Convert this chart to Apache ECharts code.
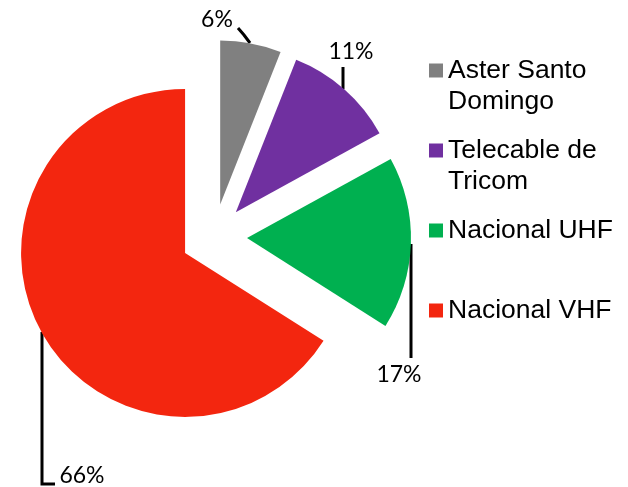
<!DOCTYPE html>
<html>
<head>
<meta charset="utf-8">
<script src="https://cdn.jsdelivr.net/npm/echarts@6/dist/echarts.min.js"></script>
<style>
html, body {margin:0; padding:0; background:#fff;}
#main {width:628px; height:487px;}
</style>
</head>
<body>
<div id="main"></div>
<script>
// data
const names = ["Aster Santo Domingo", "Telecable de Tricom", "Nacional UHF", "Nacional VHF"];
const legendLines = [["Aster Santo", "Domingo"], ["Telecable de", "Tricom"], ["Nacional UHF", " "], ["Nacional VHF", " "]];
const shares = [6, 11, 17, 66];

const colors = ["#808080", "#7030a0", "#00b050", "#f3260f"];

// hand placed labels, like the original
const labelPos = [
	{x: 217, y: 20, line: [[250, 43], [244, 35], [238, 28]]},
	{x: 351, y: 52, line: [[343, 89], [343, 78], [343, 67]]},
	{x: 399, y: 375, line: [[411, 244], [411, 300], [411, 358]]},
	{x: 82, y: 476, line: [[42, 332], [42, 484], [55, 484]]}
];

const cx = 214, cy = 237, r = 164, explode = 33;

var mychart = echarts.init(document.getElementById("main"));

const rich = {
	g: {width: 5, lineHeight: 31},
	i: {width: 19, lineHeight: 31},
	t: {fontSize: 26.5, fontFamily: "Liberation Sans", lineHeight: 31, color: "#000"}
};
for(let i = 0; i < colors.length; i++){
	rich["s" + i] = {width: 14, height: 14, backgroundColor: colors[i], lineHeight: 31};
}

// one pie per slice, every pie has all the data, only its own slice is painted
const total = shares.reduce((a, b) => a + b, 0);
const series = [];
let before = 0;
for(let k = 0; k < shares.length; k++){
	const mid = (before + shares[k] / 2) / total * 2 * Math.PI;
	before += shares[k];
	const piedata = [];
	for(let i = 0; i < names.length; i++){
		const mine = i == k;
		piedata.push({name: names[i], value: shares[i],
			itemStyle: {color: mine ? colors[i] : "rgba(0,0,0,0)"},
			label: {show: mine},
			labelLine: {show: mine}});
	}
	series.push({
		type: "pie",
		center: [cx + explode * Math.sin(mid), cy - explode * Math.cos(mid)],
		radius: r,
		startAngle: 90,
		silent: true,
		avoidLabelOverlap: false,
		data: piedata,
		label: {
			formatter: function(p){return p.value + "%";},
			fontFamily: "Lato",
			fontSize: 23,
			color: "#000"
		},
		labelLine: {smooth: false, lineStyle: {color: "#000", width: 3}},
		labelLayout: function(params){
			const p = labelPos[params.dataIndex];
			return {x: p.x, y: p.y, align: "center", verticalAlign: "middle", labelLinePoints: p.line};
		}
	});
}

const option = {
	animation: false,
	legend: {
		orient: "vertical",
		left: 424,
		top: 57,
		padding: 0,
		itemGap: 22,
		itemWidth: 0,
		itemHeight: 0,
		selectedMode: false,
		data: names,
		formatter: function(name){
			const i = names.indexOf(name);
			return "{s" + i + "|}{g|}{t|" + legendLines[i][0] + "}\n{i|}{t|" + legendLines[i][1] + "}";
		},
		textStyle: {rich: rich}
	},
	series: series
};
mychart.setOption(option);
</script>
</body>
</html>
